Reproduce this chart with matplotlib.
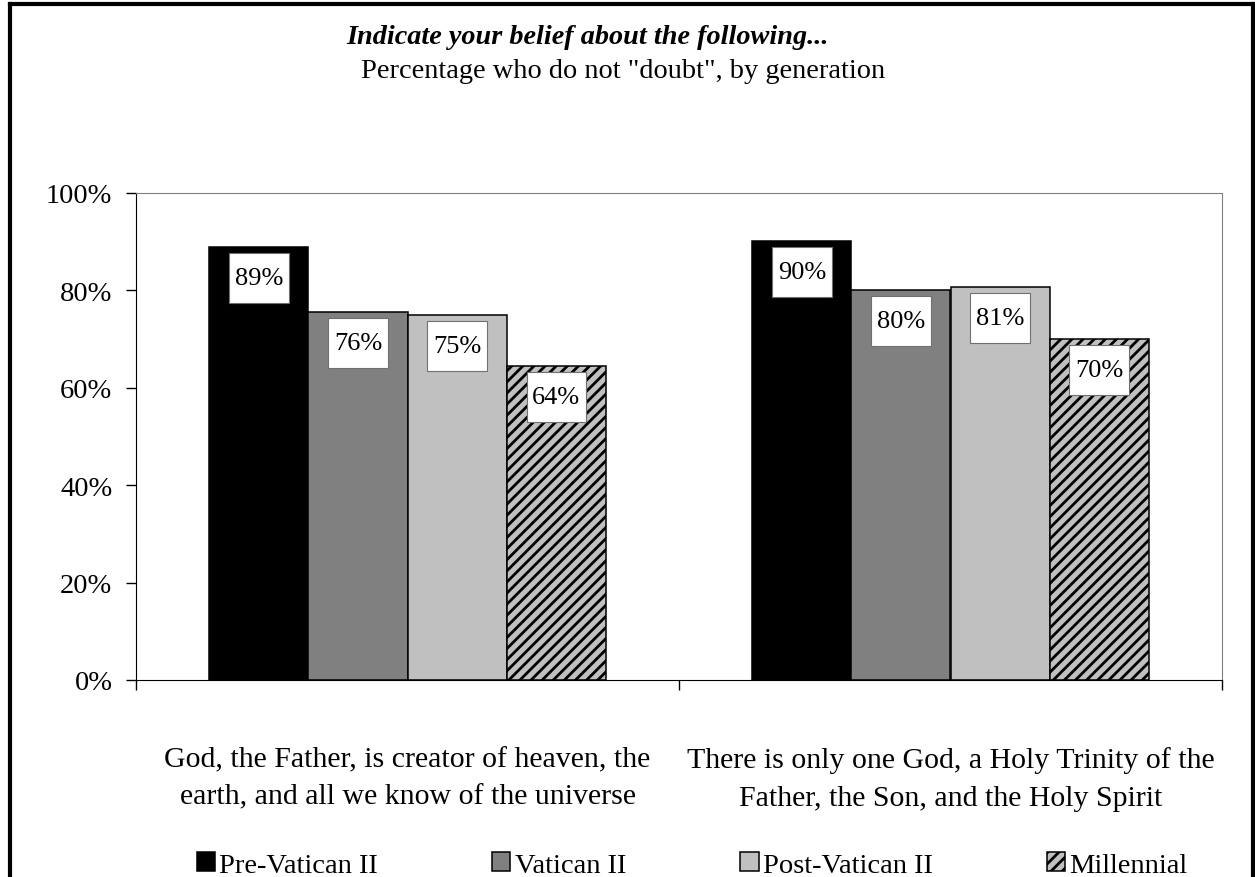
import matplotlib
matplotlib.use("Agg")
import matplotlib.pyplot as plt
from matplotlib.lines import Line2D
from matplotlib.path import Path
from matplotlib.ticker import FixedLocator, NullFormatter

plt.rcParams['font.family'] = ['Liberation Serif', 'DejaVu Serif']
plt.rcParams['hatch.linewidth'] = 2.0

# data
categories = ["God, the Father, is creator of heaven, the\nearth, and all we know of the universe",
              "There is only one God, a Holy Trinity of the\nFather, the Son, and the Holy Spirit"]
series = ["Pre-Vatican II", "Vatican II", "Post-Vatican II", "Millennial"]
pre_vatican = [89.0, 90.2]
vatican = [75.6, 80.0]
post_vatican = [75.0, 80.7]
millennial = [64.4, 70.1]
y_ticks = [0, 20, 40, 60, 80, 100]

values = [pre_vatican, vatican, post_vatican, millennial]
colors = ["#000000", "#808080", "#c0c0c0", "#c0c0c0"]
hatches = [None, None, None, "///"]


def label_box(x0, y0, width, height, mutation_size):
    # rectangle with more padding top/bottom than left/right
    px = 0.21 * mutation_size
    py = 0.53 * mutation_size
    x0, y0 = x0 - px, y0 - py
    x1, y1 = x0 + width + 2 * px, y0 + height + 2 * py
    return Path([(x0, y0), (x1, y0), (x1, y1), (x0, y1), (x0, y0)], closed=True)


W, H = 1255, 878
fig = plt.figure(figsize=(W / 100, H / 100), dpi=100)
ax = fig.add_axes([136 / W, 1 - 681 / H, (1222 - 136) / W, (681 - 194) / H])

bar_w = 0.1825
x = list(range(len(categories)))
bars = []
for i, (name, vals) in enumerate(zip(series, values)):
    offs = (i - 1.5) * bar_w
    b = ax.bar([c + offs for c in x], vals, width=bar_w, color=colors[i],
               edgecolor="black", linewidth=1.1, hatch=hatches[i], label=name)
    bars.append(b)
    for c, v in zip(x, vals):
        ax.annotate(f"{v:.0f}%", xy=(c + offs, v), xytext=(0, -20),
                    textcoords="offset pixels", ha="center", va="top",
                    fontsize=19,
                    bbox=dict(boxstyle=label_box, facecolor="white",
                              edgecolor="#707070", linewidth=0.8))

ax.set_xlim(-0.5, len(categories) - 0.5)
ax.set_ylim(0, 100)
ax.set_yticks(y_ticks)
ax.set_yticklabels([f"{t}%" for t in y_ticks])
ax.tick_params(axis="y", length=7, width=1, labelsize=20.5, pad=10)

# category separators as major ticks, labels as minor ticks
ax.xaxis.set_major_locator(FixedLocator([-0.5, 0.5, 1.5]))
ax.xaxis.set_major_formatter(NullFormatter())
ax.set_xticks(x, minor=True)
ax.set_xticklabels(categories, minor=True, fontsize=21.5, linespacing=1.59)
ax.tick_params(axis="x", which="major", length=7, width=1)
ax.tick_params(axis="x", which="minor", length=0, pad=47.5)

for s in ["top", "right"]:
    ax.spines[s].set_color("#808080")
for s in ["left", "bottom"]:
    ax.spines[s].set_color("black")

fig.text(588 / W, 1 - 37 / H, "Indicate your belief about the following...",
         ha="center", va="center", fontsize=20.3, fontweight="bold", fontstyle="italic")
fig.text(623 / W, 1 - 71 / H, 'Percentage who do not "doubt", by generation',
         ha="center", va="center", fontsize=20.4)

fig.legend(handles=bars, labels=series, loc="center", ncol=4,
           bbox_to_anchor=(692 / W, 1 - 866 / H), frameon=False, fontsize=20.5,
           handlelength=0.65, handleheight=0.65, handletextpad=0.15,
           columnspacing=4.0, borderaxespad=0)

# outer frame
lw = 3
fig.add_artist(Line2D([10 / W, 10 / W], [0, 1 - 5 / H], color="black", lw=lw, transform=fig.transFigure))
fig.add_artist(Line2D([10 / W, 1253 / W], [1 - 5 / H, 1 - 5 / H], color="black", lw=lw, transform=fig.transFigure))
fig.add_artist(Line2D([1253 / W, 1253 / W], [0, 1 - 5 / H], color="black", lw=lw, transform=fig.transFigure))

fig.savefig("out.png", dpi=100)
